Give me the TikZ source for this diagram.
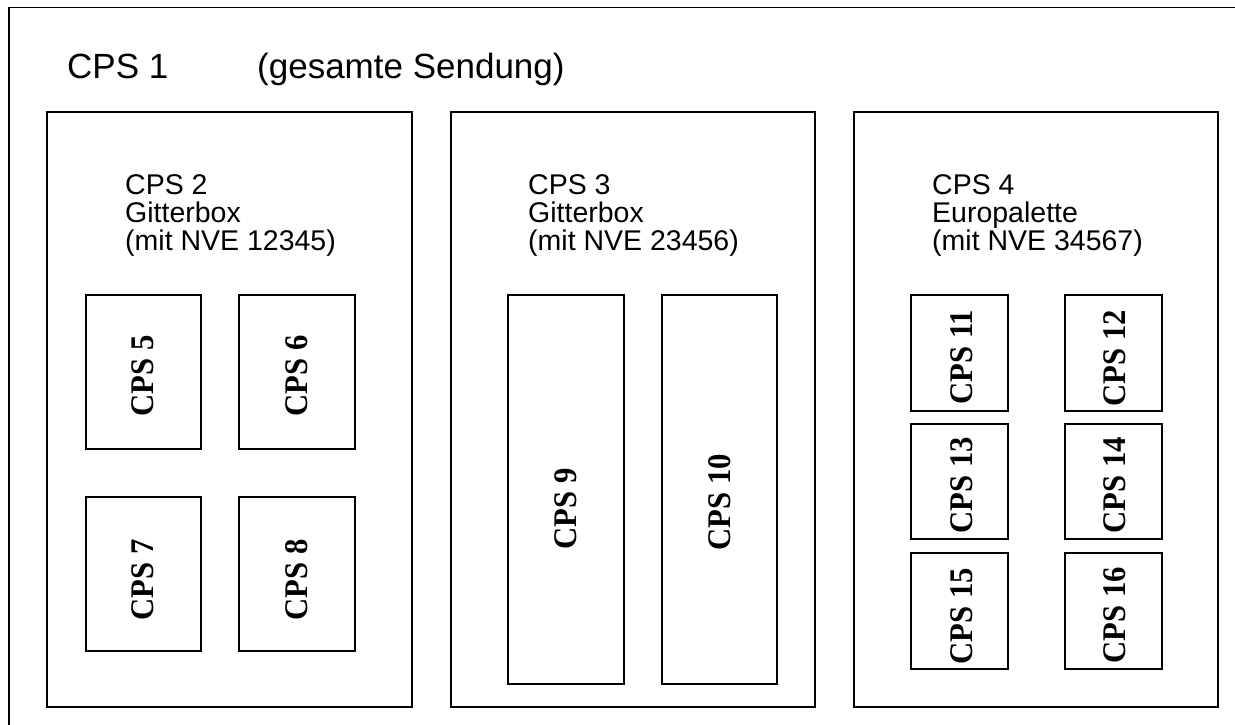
\documentclass[tikz,border=0pt]{standalone}
\usepackage{fontspec}
\setmainfont{Liberation Sans}
\newfontfamily\serifbold{Liberation Serif}[BoldFont={Liberation Serif Bold}]
\newcommand\itemlabel[1]{\scalebox{0.93}[1]{#1}}
\begin{document}
\begin{tikzpicture}[x=1pt,y=-1pt,
  boxline/.style={draw=black,line width=1.7pt},
  titletext/.style={font=\fontsize{35}{42}\selectfont,anchor=base west,inner sep=0pt},
  grouptext/.style={font=\fontsize{28.5}{27}\selectfont,anchor=base west,inner sep=0pt},
  itemtext/.style={font=\serifbold\bfseries\fontsize{33}{38}\selectfont,rotate=90,inner sep=0pt}]
\useasboundingbox (0,0) rectangle (1235,724);
\fill[white] (0,0) rectangle (1235,724);
\begin{scope}
\clip (0,0) rectangle (1235,724);
\draw[boxline] (9,7.5) rectangle (1245,740);
\end{scope}
% title
\node[titletext] (t1) at (67,78) {CPS 1};
\node[titletext] (t1b) at (257,78) {(gesamte Sendung)};
% group boxes
\draw[boxline] (47,112) rectangle (412,707);
\draw[boxline] (451,112) rectangle (815,707);
\draw[boxline] (854,112) rectangle (1218,707);
\node[grouptext] (g2a) at (125,194) {CPS 2};
\node[grouptext] (g2b) at (125,222) {Gitterbox};
\node[grouptext] (g2c) at (125,250) {(mit NVE 12345)};
\node[grouptext] (g3a) at (528,194) {CPS 3};
\node[grouptext] (g3b) at (528,222) {Gitterbox};
\node[grouptext] (g3c) at (528,250) {(mit NVE 23456)};
\node[grouptext] (g4a) at (932,194) {CPS 4};
\node[grouptext] (g4b) at (932,222) {Europalette};
\node[grouptext] (g4c) at (932,250) {(mit NVE 34567)};
% item boxes
\draw[boxline] (86,295) rectangle (201,449);
\draw[boxline] (239,295) rectangle (355,449);
\draw[boxline] (86,497) rectangle (201,651);
\draw[boxline] (239,497) rectangle (355,651);
\node[itemtext] (c5) at (143,376) {\itemlabel{CPS 5}};
\node[itemtext] (c6) at (297,376) {\itemlabel{CPS 6}};
\node[itemtext] (c7) at (143,580) {\itemlabel{CPS 7}};
\node[itemtext] (c8) at (297,580) {\itemlabel{CPS 8}};
\draw[boxline] (508,295) rectangle (624,684);
\draw[boxline] (662,295) rectangle (777,684);
\node[itemtext] (c9) at (566,509) {\itemlabel{CPS 9}};
\node[itemtext] (c10) at (720,502) {\itemlabel{CPS 10}};
\draw[boxline] (911,295) rectangle (1008,411);
\draw[boxline] (1065,295) rectangle (1162,411);
\draw[boxline] (911,424) rectangle (1008,539);
\draw[boxline] (1065,424) rectangle (1162,539);
\draw[boxline] (911,553) rectangle (1008,669);
\draw[boxline] (1065,553) rectangle (1162,669);
\node[itemtext] (c11) at (962,357) {\itemlabel{CPS 11}};
\node[itemtext] (c12) at (1115,358) {\itemlabel{CPS 12}};
\node[itemtext] (c13) at (962,485) {\itemlabel{CPS 13}};
\node[itemtext] (c14) at (1115,485) {\itemlabel{CPS 14}};
\node[itemtext] (c15) at (962,616) {\itemlabel{CPS 15}};
\node[itemtext] (c16) at (1115,615) {\itemlabel{CPS 16}};
\end{tikzpicture}
\end{document}
